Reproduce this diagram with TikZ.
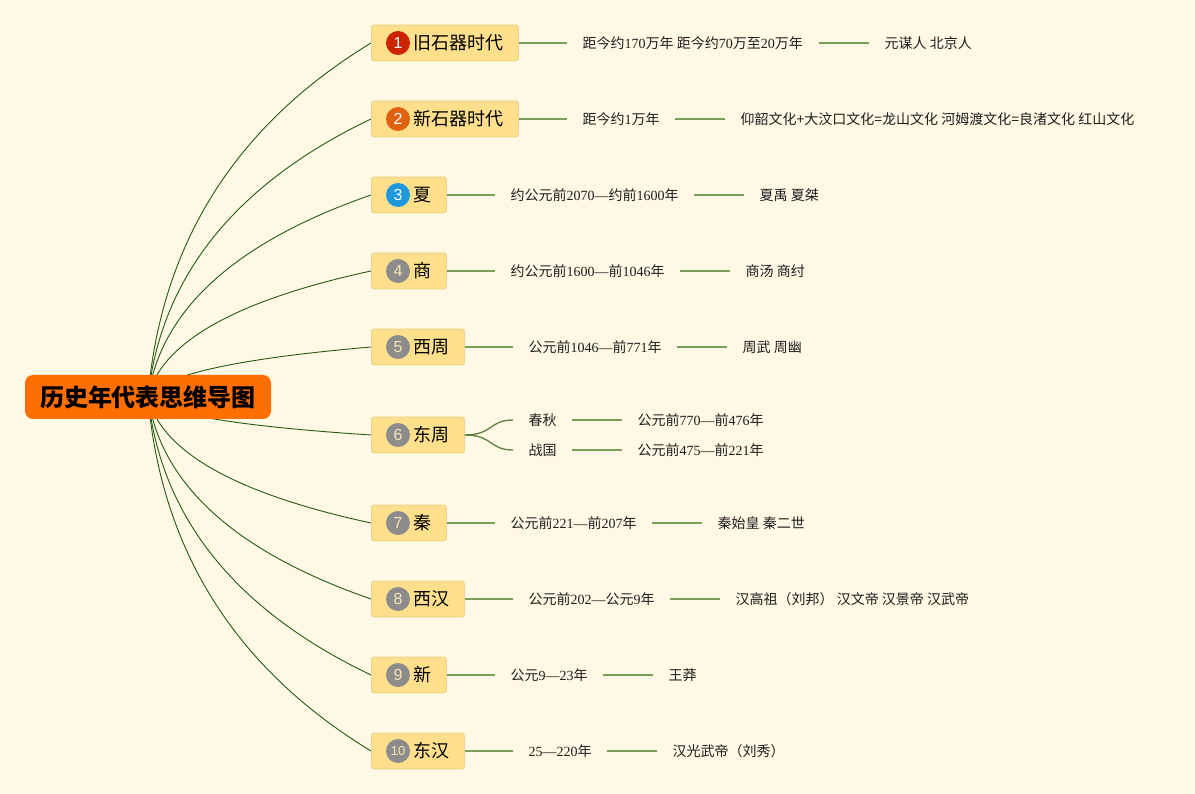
\documentclass[tikz,border=0pt]{standalone}
\usepackage{fontspec}
\newfontfamily\cjk{Noto Sans CJK SC}
\newfontfamily\serifnum{Liberation Serif}
\newfontfamily\iconfont{Liberation Sans}
\newcommand\nm[1]{{\serifnum #1}}
\usetikzlibrary{calc,backgrounds}
\definecolor{bgc}{HTML}{FEF8E4}
\definecolor{rootc}{HTML}{FF6F00}
\definecolor{boxfill}{HTML}{FDDF8C}
\definecolor{boxline}{HTML}{EAD28E}
\definecolor{curvec}{HTML}{235A12}
\definecolor{l2c}{HTML}{76A055}
\definecolor{ic1}{HTML}{CC2300}
\definecolor{ic2}{HTML}{E0620E}
\definecolor{ic3}{HTML}{1D98DC}
\definecolor{icg}{HTML}{8C8C8C}
\definecolor{icgt}{HTML}{F5E6B4}
\definecolor{txt}{HTML}{1E1E1E}
\tikzset{
  rootbox/.style={fill=rootc, rounded corners=8, minimum width=246, minimum height=44, inner sep=0,
    font=\cjk\bfseries\fontsize{24}{24}\selectfont, text=black},
  topicbox/.style={draw=boxline, fill=boxfill, rounded corners=3, line width=0.9, minimum height=36,
    inner xsep=15, inner ysep=0, anchor=west, font=\cjk\fontsize{18}{18}\selectfont, text=black},
  iconc/.style={circle, fill=#1, minimum size=24, inner sep=0, text=white,
    font=\iconfont\fontsize{16}{16}\selectfont},
  leaf/.style={anchor=west, inner xsep=15.5, inner ysep=3, font=\cjk\fontsize{14}{14}\selectfont, text=txt},
  curve1/.style={draw=curvec, line width=0.9},
  l2line/.style={draw=l2c, line width=1.8},
  l2curve/.style={draw=l2c!80!black, line width=1.3},
}
\begin{document}
\begin{tikzpicture}[x=1pt,y=-1pt]
\useasboundingbox (0,0) rectangle (1195,794);
% root
\node[rootbox] (root) at (148,397) {历史年代表思维导图};
% topics
\node[topicbox] (n1) at (371,43) {\hspace*{27pt}旧石器时代};
\node[topicbox] (n2) at (371,119) {\hspace*{27pt}新石器时代};
\node[topicbox] (n3) at (371,195) {\hspace*{27pt}夏};
\node[topicbox] (n4) at (371,271) {\hspace*{27pt}商};
\node[topicbox] (n5) at (371,347) {\hspace*{27pt}西周};
\node[topicbox] (n6) at (371,435) {\hspace*{27pt}东周};
\node[topicbox] (n7) at (371,523) {\hspace*{27pt}秦};
\node[topicbox] (n8) at (371,599) {\hspace*{27pt}西汉};
\node[topicbox] (n9) at (371,675) {\hspace*{27pt}新};
\node[topicbox] (n10) at (371,751) {\hspace*{27pt}东汉};
% icons
\node[iconc=ic1] (i1) at ($(n1.west)+(27,0)$) {1};
\node[iconc=ic2] (i2) at ($(n2.west)+(27,0)$) {2};
\node[iconc=ic3] (i3) at ($(n3.west)+(27,0)$) {3};
\node[iconc=icg, text=icgt] (i4) at ($(n4.west)+(27,0)$) {4};
\node[iconc=icg, text=icgt] (i5) at ($(n5.west)+(27,0)$) {5};
\node[iconc=icg, text=icgt] (i6) at ($(n6.west)+(27,0)$) {6};
\node[iconc=icg, text=icgt] (i7) at ($(n7.west)+(27,0)$) {7};
\node[iconc=icg, text=icgt] (i8) at ($(n8.west)+(27,0)$) {8};
\node[iconc=icg, text=icgt] (i9) at ($(n9.west)+(27,0)$) {9};
\node[iconc=icg, text=icgt, font=\iconfont\fontsize{13}{13}\selectfont] (i10) at ($(n10.west)+(27,0)$) {10};
% leaves
\node[leaf] (a1) at (567,43) {距今约\nm{170}万年 距今约\nm{70}万至\nm{20}万年};
\node[leaf] (b1) at (869,43) {元谋人 北京人};
\node[leaf] (a2) at (567,119) {距今约\nm{1}万年};
\node[leaf] (b2) at (725,119) {仰韶文化+大汶口文化=龙山文化 河姆渡文化=良渚文化 红山文化};
\node[leaf] (a3) at (495,195) {约公元前\nm{2070—}约前\nm{1600}年};
\node[leaf] (b3) at (744,195) {夏禹 夏桀};
\node[leaf] (a4) at (495,271) {约公元前\nm{1600—}前\nm{1046}年};
\node[leaf] (b4) at (730,271) {商汤 商纣};
\node[leaf] (a5) at (513,347) {公元前\nm{1046—}前\nm{771}年};
\node[leaf] (b5) at (727,347) {周武 周幽};
\node[leaf] (a6) at (513,420) {春秋};
\node[leaf] (c6) at (513,450) {战国};
\node[leaf] (b6) at (622,420) {公元前\nm{770—}前\nm{476}年};
\node[leaf] (d6) at (622,450) {公元前\nm{475—}前\nm{221}年};
\node[leaf] (a7) at (495,523) {公元前\nm{221—}前\nm{207}年};
\node[leaf] (b7) at (702,523) {秦始皇 秦二世};
\node[leaf] (a8) at (513,599) {公元前\nm{202—}公元\nm{9}年};
\node[leaf] (b8) at (720,599) {汉高祖（刘邦） 汉文帝 汉景帝 汉武帝};
\node[leaf] (a9) at (495,675) {公元\nm{9—23}年};
\node[leaf] (b9) at (653,675) {王莽};
\node[leaf] (a10) at (513,751) {\nm{25—220}年};
\node[leaf] (b10) at (657,751) {汉光武帝（刘秀）};
% level-2 connectors
\foreach \i in {1,2,3,4,5,7,8,9,10}{
  \draw[l2line] (n\i.east) -- (a\i.west);
  \draw[l2line] (a\i.east) -- (b\i.west);
}
\draw[l2curve] (n6.east) .. controls +(28,0) and +(-24,0) .. (a6.west);
\draw[l2curve] (n6.east) .. controls +(28,0) and +(-24,0) .. (c6.west);
\draw[l2line] (a6.east) -- (b6.west);
\draw[l2line] (c6.east) -- (d6.west);
% background + root curves
\begin{scope}[on background layer]
\fill[bgc] (0,0) rectangle (1195,794);
\foreach \i/\dy in {1/-354,2/-278,3/-202,4/-126,5/-50,6/38,7/126,8/202,9/278,10/354}{
  \draw[curve1] (root.center) .. controls +(13,{0.4333*\dy}) and +(-135.7,{-0.2333*\dy}) .. (n\i.west);
}
\end{scope}
\end{tikzpicture}
\end{document}
